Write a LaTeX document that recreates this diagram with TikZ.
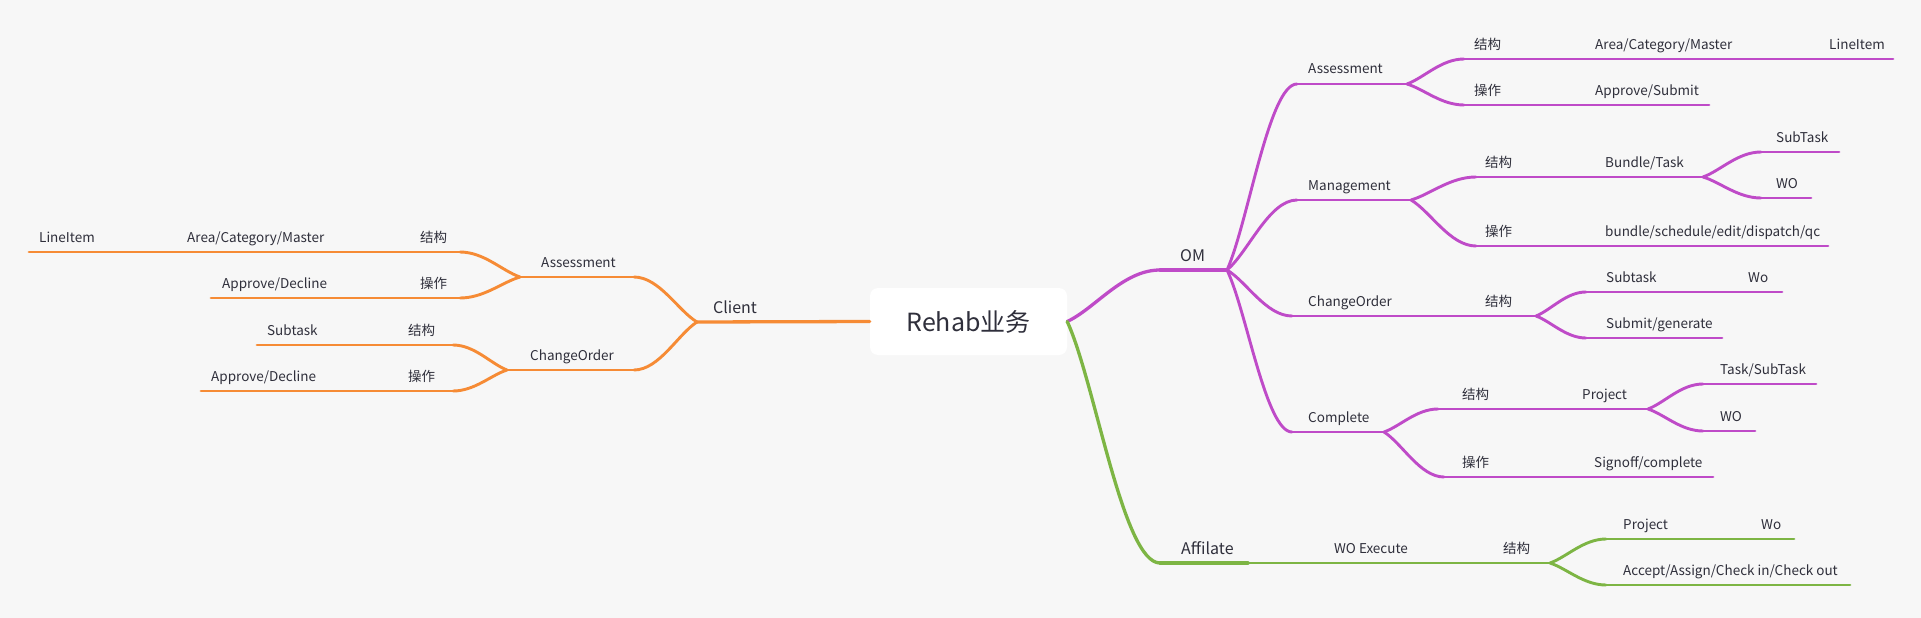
\documentclass[tikz,border=0pt]{standalone}
\usepackage{fontspec}
\setmainfont{Noto Sans CJK SC}
\usetikzlibrary{calc}

\definecolor{cBg}{HTML}{F7F7F7}
\definecolor{cOra}{HTML}{F68B35}
\definecolor{cPur}{HTML}{BF4BC8}
\definecolor{cGrn}{HTML}{7DB544}
\definecolor{cInk}{HTML}{2F2F3B}

\tikzset{
  lbl/.style = {anchor=base west, inner sep=0pt, text=cInk, font=\fontsize{13.5}{14}\selectfont},
  big/.style = {lbl, font=\fontsize{16}{17}\selectfont},
  bline/.style = {line width=2.9pt, line cap=round, line join=round},
  orab/.style = {bline, draw=cOra},
  purb/.style = {bline, draw=cPur},
  grnb/.style = {bline, draw=cGrn},
  curve/.style = {to path={let \p1=(\tikztostart), \p2=(\tikztotarget) in
    .. controls ({\x1+0.3*(\x2-\x1)},{\y1+0.25*(\y2-\y1)}) and ({\x1+0.6*(\x2-\x1)},\y2) .. (\tikztotarget)}}
}

\begin{document}
\begin{tikzpicture}[x=1pt, y=-1pt]
    \useasboundingbox (0,0) rectangle (1921,618);
    \fill[cBg] (0,0) rectangle (1921,618);

    % Centro
    \node[fill=white, rounded corners=8pt, minimum width=197pt, minimum height=67pt,
          inner sep=0pt, text=cInk, font=\fontsize{25}{26}\selectfont] (root) at (968.5,321.5) {Rehab业务};

    % Nivel 1
    \coordinate (cl-w) at (697,322);
    \node[big] (cl) at (713,313) {Client};
    \coordinate (om-w) at (1160,270); \coordinate (om-e) at (1227,270);
    \node[big] (om) at (1180,261) {OM};
    \coordinate (af-w) at (1160,563); \coordinate (af-e) at (1248,563);
    \node[big] (af) at (1181,554) {Affilate};

    % Client
    \coordinate (clA-e) at (634,277); \coordinate (clA-w) at (520,277);
    \node[lbl] (clA) at (541,267) {Assessment};
    \coordinate (clAs-e) at (460,252); \coordinate (clAs-w) at (400,252);
    \node[lbl] (clAs) at (420,242) {结构};
    \coordinate (clAsa-w) at (175,252);
    \node[lbl] (clAsa) at (187,242) {Area/Category/Master};
    \coordinate (clAsal-w) at (29,252);
    \node[lbl] (clAsal) at (39,242) {LineItem};
    \coordinate (clAo-e) at (460,298); \coordinate (clAo-w) at (400,298);
    \node[lbl] (clAo) at (420,288) {操作};
    \coordinate (clAoa-w) at (211,298);
    \node[lbl] (clAoa) at (222,288) {Approve/Decline};

    \coordinate (clC-e) at (634,370); \coordinate (clC-w) at (507,370);
    \node[lbl] (clC) at (530,360) {ChangeOrder};
    \coordinate (clCs-e) at (453,345); \coordinate (clCs-w) at (395,345);
    \node[lbl] (clCs) at (408,335) {结构};
    \coordinate (clCss-w) at (257,345);
    \node[lbl] (clCss) at (267,335) {Subtask};
    \coordinate (clCo-e) at (453,391); \coordinate (clCo-w) at (395,391);
    \node[lbl] (clCo) at (408,381) {操作};
    \coordinate (clCoa-w) at (201,391);
    \node[lbl] (clCoa) at (211,381) {Approve/Decline};

    % OM
    \coordinate (omA-w) at (1297,84); \coordinate (omA-e) at (1407,84);
    \node[lbl] (omA) at (1308,74) {Assessment};
    \coordinate (omAs-w) at (1464,59); \coordinate (omAs-e) at (1580,59);
    \node[lbl] (omAs) at (1474,49) {结构};
    \coordinate (omAsa-e) at (1815,59);
    \node[lbl] (omAsa) at (1595,49) {Area/Category/Master};
    \coordinate (omAsal-e) at (1893,59);
    \node[lbl] (omAsal) at (1829,49) {LineItem};
    \coordinate (omAo-w) at (1464,105); \coordinate (omAo-e) at (1580,105);
    \node[lbl] (omAo) at (1474,95) {操作};
    \coordinate (omAoa-e) at (1709,105);
    \node[lbl] (omAoa) at (1595,95) {Approve/Submit};

    \coordinate (omM-w) at (1297,200); \coordinate (omM-e) at (1411,200);
    \node[lbl] (omM) at (1308,190) {Management};
    \coordinate (omMs-w) at (1476,177); \coordinate (omMs-e) at (1590,177);
    \node[lbl] (omMs) at (1485,167) {结构};
    \coordinate (omMsb-e) at (1703,177);
    \node[lbl] (omMsb) at (1605,167) {Bundle/Task};
    \coordinate (omMsbt-w) at (1761,152); \coordinate (omMsbt-e) at (1839,152);
    \node[lbl] (omMsbt) at (1776,142) {SubTask};
    \coordinate (omMsbw-w) at (1761,198); \coordinate (omMsbw-e) at (1811,198);
    \node[lbl] (omMsbw) at (1776,188) {WO};
    \coordinate (omMo-w) at (1476,246); \coordinate (omMo-e) at (1590,246);
    \node[lbl] (omMo) at (1485,236) {操作};
    \coordinate (omMob-e) at (1828,246);
    \node[lbl] (omMob) at (1605,236) {bundle/schedule/edit/dispatch/qc};

    \coordinate (omC-w) at (1292,316); \coordinate (omC-e) at (1470,316);
    \node[lbl] (omC) at (1308,306) {ChangeOrder};
    \coordinate (omCs-e) at (1536,316);
    \node[lbl] (omCs) at (1485,306) {结构};
    \coordinate (omCst-w) at (1586,292); \coordinate (omCst-e) at (1735,292);
    \node[lbl] (omCst) at (1606,282) {Subtask};
    \coordinate (omCstw-e) at (1782,292);
    \node[lbl] (omCstw) at (1748,282) {Wo};
    \coordinate (omCsg-w) at (1586,338); \coordinate (omCsg-e) at (1722,338);
    \node[lbl] (omCsg) at (1606,328) {Submit/generate};

    \coordinate (omK-w) at (1292,432); \coordinate (omK-e) at (1384,432);
    \node[lbl] (omK) at (1308,422) {Complete};
    \coordinate (omKs-w) at (1438,409); \coordinate (omKs-e) at (1570,409);
    \node[lbl] (omKs) at (1462,399) {结构};
    \coordinate (omKsp-e) at (1648,409);
    \node[lbl] (omKsp) at (1582,399) {Project};
    \coordinate (omKspt-w) at (1703,384); \coordinate (omKspt-e) at (1816,384);
    \node[lbl] (omKspt) at (1720,374) {Task/SubTask};
    \coordinate (omKspw-w) at (1703,431); \coordinate (omKspw-e) at (1755,431);
    \node[lbl] (omKspw) at (1720,421) {WO};
    \coordinate (omKo-w) at (1444,477); \coordinate (omKo-e) at (1580,477);
    \node[lbl] (omKo) at (1462,467) {操作};
    \coordinate (omKos-e) at (1713,477);
    \node[lbl] (omKos) at (1594,467) {Signoff/complete};

    % Affilate
    \coordinate (afW-e) at (1490,563);
    \node[lbl] (afW) at (1334,553) {WO Execute};
    \coordinate (afWs-e) at (1550,563);
    \node[lbl] (afWs) at (1503,553) {结构};
    \coordinate (afWsp-w) at (1606,539); \coordinate (afWsp-e) at (1750,539);
    \node[lbl] (afWsp) at (1623,529) {Project};
    \coordinate (afWspw-e) at (1794,539);
    \node[lbl] (afWspw) at (1761,529) {Wo};
    \coordinate (afWsa-w) at (1606,585); \coordinate (afWsa-e) at (1850,585);
    \node[lbl] (afWsa) at (1623,575) {Accept/Assign/Check in/Check out};

    % Conexiones
    \draw[orab, line width=3.3pt] (root.west) -- (cl-w);
    \draw[orab] (cl-w) to[curve] (clA-e);
    \draw[orab] (clA-e) -- (clA-w);
    \draw[orab] (clA-w) to[curve] (clAs-e);
    \draw[orab] (clAs-e) -- (clAs-w) -- (clAsa-w) -- (clAsal-w);
    \draw[orab] (clA-w) to[curve] (clAo-e);
    \draw[orab] (clAo-e) -- (clAo-w) -- (clAoa-w);
    \draw[orab] (cl-w) to[curve] (clC-e);
    \draw[orab] (clC-e) -- (clC-w);
    \draw[orab] (clC-w) to[curve] (clCs-e);
    \draw[orab] (clCs-e) -- (clCs-w) -- (clCss-w);
    \draw[orab] (clC-w) to[curve] (clCo-e);
    \draw[orab] (clCo-e) -- (clCo-w) -- (clCoa-w);

    \draw[purb, line width=3.3pt] (root.east) to[curve] (om-w);
    \draw[purb, line width=3.3pt] (om-w) -- (om-e);
    \draw[purb] (om-e) to[curve] (omA-w);
    \draw[purb] (omA-w) -- (omA-e);
    \draw[purb] (omA-e) to[curve] (omAs-w);
    \draw[purb] (omAs-w) -- (omAs-e) -- (omAsa-e) -- (omAsal-e);
    \draw[purb] (omA-e) to[curve] (omAo-w);
    \draw[purb] (omAo-w) -- (omAo-e) -- (omAoa-e);
    \draw[purb] (om-e) to[curve] (omM-w);
    \draw[purb] (omM-w) -- (omM-e);
    \draw[purb] (omM-e) to[curve] (omMs-w);
    \draw[purb] (omMs-w) -- (omMs-e) -- (omMsb-e);
    \draw[purb] (omMsb-e) to[curve] (omMsbt-w);
    \draw[purb] (omMsbt-w) -- (omMsbt-e);
    \draw[purb] (omMsb-e) to[curve] (omMsbw-w);
    \draw[purb] (omMsbw-w) -- (omMsbw-e);
    \draw[purb] (omM-e) to[curve] (omMo-w);
    \draw[purb] (omMo-w) -- (omMo-e) -- (omMob-e);
    \draw[purb] (om-e) to[curve] (omC-w);
    \draw[purb] (omC-w) -- (omC-e) -- (omCs-e);
    \draw[purb] (omCs-e) to[curve] (omCst-w);
    \draw[purb] (omCst-w) -- (omCst-e) -- (omCstw-e);
    \draw[purb] (omCs-e) to[curve] (omCsg-w);
    \draw[purb] (omCsg-w) -- (omCsg-e);
    \draw[purb] (om-e) to[curve] (omK-w);
    \draw[purb] (omK-w) -- (omK-e);
    \draw[purb] (omK-e) to[curve] (omKs-w);
    \draw[purb] (omKs-w) -- (omKs-e) -- (omKsp-e);
    \draw[purb] (omKsp-e) to[curve] (omKspt-w);
    \draw[purb] (omKspt-w) -- (omKspt-e);
    \draw[purb] (omKsp-e) to[curve] (omKspw-w);
    \draw[purb] (omKspw-w) -- (omKspw-e);
    \draw[purb] (omK-e) to[curve] (omKo-w);
    \draw[purb] (omKo-w) -- (omKo-e) -- (omKos-e);

    \draw[grnb, line width=3.3pt] (root.east) to[curve] (af-w);
    \draw[grnb, line width=3.3pt] (af-w) -- (af-e);
    \draw[grnb] (af-e) -- (afW-e) -- (afWs-e);
    \draw[grnb] (afWs-e) to[curve] (afWsp-w);
    \draw[grnb] (afWsp-w) -- (afWsp-e) -- (afWspw-e);
    \draw[grnb] (afWs-e) to[curve] (afWsa-w);
    \draw[grnb] (afWsa-w) -- (afWsa-e);
\end{tikzpicture}
\end{document}
